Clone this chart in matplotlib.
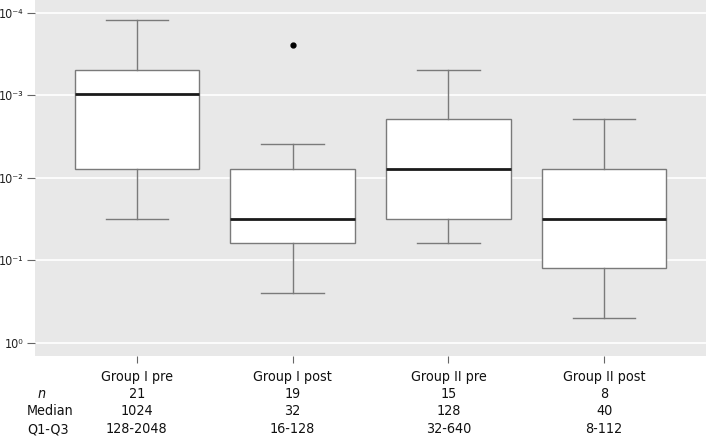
import matplotlib
matplotlib.use('Agg')
import matplotlib.pyplot as plt
import matplotlib.transforms as mtransforms
import numpy as np

# reciprocal titres
groups = ['Group I pre', 'Group I post', 'Group II pre', 'Group II post']
whis_hi = [8192, 256, 2048, 512]
q3 = [2048, 128, 512, 128]
median = [1024, 32, 128, 32]
q1 = [128, 16, 32, 8]
whis_lo = [32, 4, 16, 2]
outliers = [[], [4096], [], []]

# summary table below the axis
row_names = ['n', 'Median', 'Q1-Q3']
n_vals = ['21', '19', '15', '8']
median_vals = ['1024', '32', '128', '40']
iqr_vals = ['128-2048', '16-128', '32-640', '8-112']
ytick_vals = [1e-4, 1e-3, 1e-2, 1e-1, 1]
ytick_labels = ['10⁻⁴', '10⁻³', '10⁻²', '10⁻¹', '10⁰']

plt.rcParams['font.family'] = ['DejaVu Sans']
plt.rcParams['font.stretch'] = 'condensed'

W, H = 706, 436
fig = plt.figure(figsize=(W / 100, H / 100), dpi=100)
ax = fig.add_axes([35 / W, 1 - 356 / H, 1 - 35 / W, 356 / H])
ax.set_facecolor('#e8e8e8')

stats = []
for i in range(len(groups)):
    stats.append({
        'whislo': 1 / whis_lo[i], 'q1': 1 / q1[i], 'med': 1 / median[i],
        'q3': 1 / q3[i], 'whishi': 1 / whis_hi[i],
        'fliers': [1 / v for v in outliers[i]],
    })

pos = np.arange(1, len(groups) + 1)
ax.bxp(stats, positions=pos, widths=0.8, patch_artist=True,
       boxprops=dict(facecolor='white', edgecolor='#7a7a7a', linewidth=1.0),
       medianprops=dict(color='#1a1a1a', linewidth=2.0),
       whiskerprops=dict(color='#7a7a7a', linewidth=1.0),
       capprops=dict(color='#7a7a7a', linewidth=1.0),
       capwidths=0.4,
       flierprops=dict(marker='o', markerfacecolor='black', markeredgecolor='black',
                       markersize=3.5))

ax.set_yscale('log')
ax.set_ylim(10 ** 0.161, 10 ** -4.154)
ax.set_xlim(0.346, 4.654)
ax.set_yticks(ytick_vals)
ax.set_yticklabels(ytick_labels)
ax.yaxis.set_minor_locator(matplotlib.ticker.NullLocator())
ax.set_xticks(pos)
ax.set_xticklabels([])
ax.grid(True, axis='y', color='white', linewidth=1.2)
ax.set_axisbelow(True)
for s in ax.spines.values():
    s.set_visible(False)
ax.tick_params(axis='y', length=6, color='#666666', labelsize=9, labelcolor='#222222', pad=2)
ax.tick_params(axis='x', length=5, color='#666666')

trans = mtransforms.blended_transform_factory(ax.transData, fig.transFigure)
fs = 10.3
baselines = [381, 397.5, 415, 433]
for i, x in enumerate(pos):
    col = [groups[i], n_vals[i], median_vals[i], iqr_vals[i]]
    for txt, yb in zip(col, baselines):
        ax.text(x, 1 - yb / H, txt, transform=trans, ha='center', va='baseline',
                fontsize=fs, color='#111111')

row_x = [42, 50, 48]
for name, xc, yb in zip(row_names, row_x, baselines[1:]):
    fig.text(xc / W, 1 - yb / H, name, ha='center', va='baseline', fontsize=fs,
             style='italic' if name == 'n' else 'normal', color='#111111')

fig.savefig('out.png', dpi=100)
